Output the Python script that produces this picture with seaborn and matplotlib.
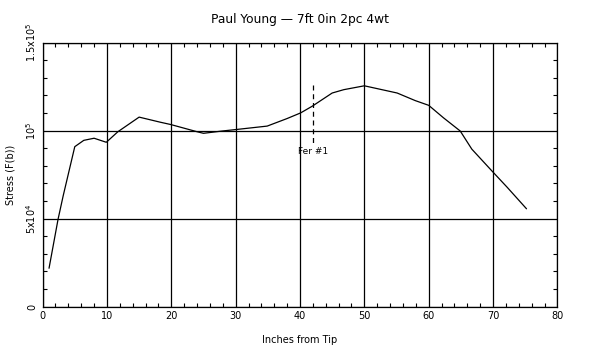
import matplotlib
matplotlib.use("Agg")
import matplotlib.pyplot as plt
import seaborn as sns
import pandas as pd
from matplotlib.ticker import MultipleLocator, FixedLocator, FixedFormatter

inches = [1.0, 2.4, 3.2, 5.0, 6.4, 8.0, 9.9, 11.7, 15.0, 18.3, 19.9, 24.0, 25.0,
          27.9, 30.2, 34.9, 38.0, 40.1, 41.9, 45.0, 46.8, 50.0, 55.1, 57.9, 60.0,
          62.3, 64.9, 66.7, 69.8, 72.2, 75.2]
stress = [21800, 49600, 63000, 90900, 94500, 95700, 93400, 99400, 107700, 104800,
          103500, 99400, 98500, 99800, 100700, 102600, 106900, 110100, 113900,
          121400, 123300, 125500, 121400, 117100, 114400, 107300, 99800, 89500,
          77200, 67800, 55600]

title = "Paul Young \u2014 7ft 0in 2pc 4wt"
xlabel = "Inches from Tip"
ylabel = "Stress (F(b))"
ferrule_x = 42
ferrule_label = "Fer #1"
yticks = [0, 50000, 100000, 150000]
ytick_labels = ["0", r"5x10$^4$", r"10$^5$", r"1.5x10$^5$"]

sns.set_style("white")
plt.rcParams["font.family"] = ["DejaVu Sans"]
plt.rcParams["text.color"] = "black"
plt.rcParams["axes.labelcolor"] = "black"
plt.rcParams["xtick.color"] = "black"
plt.rcParams["ytick.color"] = "black"

fig = plt.figure(figsize=(6, 3.5), dpi=100)
ax = fig.add_axes([0.071, 0.124, 0.858, 0.754])

df = pd.DataFrame({"x": inches, "y": stress})
sns.lineplot(data=df, x="x", y="y", ax=ax, color="black", linewidth=0.9)

ax.set_xlim(0, 80)
ax.set_ylim(0, 150000)
ax.xaxis.set_major_locator(MultipleLocator(10))
ax.xaxis.set_minor_locator(MultipleLocator(2))
ax.yaxis.set_major_locator(FixedLocator(yticks))
ax.yaxis.set_major_formatter(FixedFormatter(ytick_labels))
ax.yaxis.set_minor_locator(MultipleLocator(10000))

ax.grid(True, which="major", color="black", linewidth=0.9)
for s in ax.spines.values():
    s.set_visible(True)
    s.set_color("black")
    s.set_linewidth(0.9)

ax.tick_params(which="both", direction="in", top=True, right=True,
               bottom=True, left=True, color="black", labelcolor="black",
               labelsize=7)
ax.tick_params(which="major", length=0)
ax.tick_params(which="minor", length=3, width=0.8)
for lab in ax.get_yticklabels():
    lab.set_rotation(90)
    lab.set_va("center")

ax.set_title(title, fontsize=8.8, pad=14, color="black")
ax.set_xlabel(xlabel, fontsize=7, labelpad=10, color="black")
ax.set_ylabel(ylabel, fontsize=7, labelpad=6, color="black")

ax.plot([ferrule_x, ferrule_x], [126000, 93000], color="black",
        linestyle=(0, (4, 3)), linewidth=0.9)
ax.text(ferrule_x, 90500, ferrule_label, fontsize=6.5, ha="center", va="top",
        color="black")

fig.savefig("out.png", dpi=100)
